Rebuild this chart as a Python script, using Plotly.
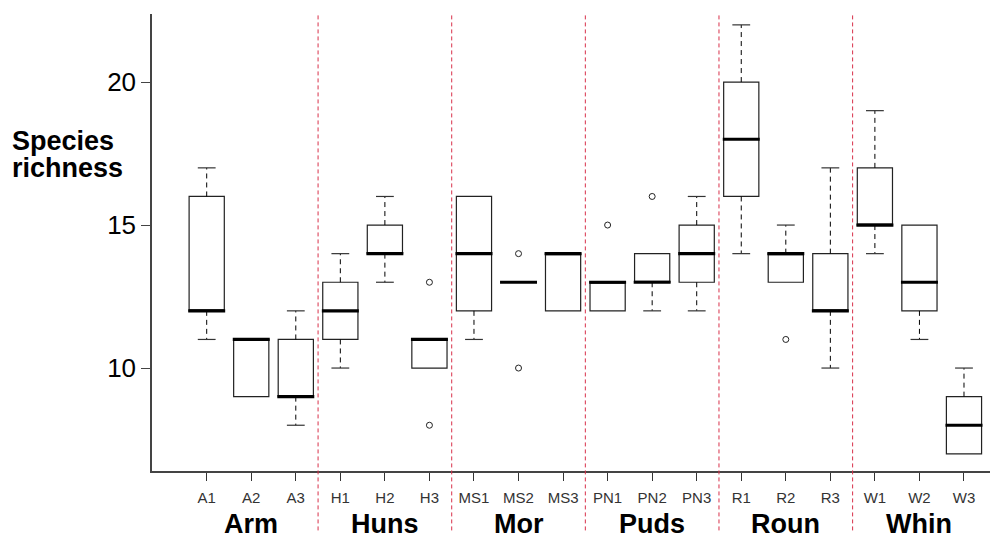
import plotly.graph_objects as go

# ---- data ----
categories = ["A1", "A2", "A3", "H1", "H2", "H3", "MS1", "MS2", "MS3",
              "PN1", "PN2", "PN3", "R1", "R2", "R3", "W1", "W2", "W3"]
groups = ["Arm", "Huns", "Mor", "Puds", "Roun", "Whin"]
lower_whisker = [11, 9, 8, 10, 13, 10, 11, 13, 12, 12, 12, 12, 14, 13, 10, 14, 11, 7]
q1 =            [12, 9, 9, 11, 14, 10, 12, 13, 12, 12, 13, 13, 16, 13, 12, 15, 12, 7]
median =        [12, 11, 9, 12, 14, 11, 14, 13, 14, 13, 13, 14, 18, 14, 12, 15, 13, 8]
q3 =            [16, 11, 11, 13, 15, 11, 16, 13, 14, 13, 14, 15, 20, 14, 14, 17, 15, 9]
upper_whisker = [17, 11, 12, 14, 16, 11, 16, 13, 14, 13, 14, 16, 22, 15, 17, 19, 15, 10]
outlier_cat = ["H3", "H3", "MS2", "MS2", "PN1", "PN2", "R2"]
outlier_val = [13, 8, 14, 10, 15, 16, 11]
y_ticks = [10, 15, 20]
y_label_lines = ["Species", "richness"]

pos = list(range(1, len(categories) + 1))
posmap = dict(zip(categories, pos))
BW = 0.79   # box width (category units)
CW = 0.40   # cap width

fig = go.Figure()

# boxes (no whiskers; dashed whiskers drawn separately)
fig.add_trace(go.Box(
    x=pos, q1=q1, median=median, q3=q3, lowerfence=q1, upperfence=q3,
    width=BW, whiskerwidth=0, boxpoints=False,
    fillcolor="white", line=dict(color="#222222", width=1.2),
    showlegend=False, hoverinfo="skip"))

# dashed whiskers
wx, wy, cx, cy = [], [], [], []
for p, lo, a, b, hi in zip(pos, lower_whisker, q1, q3, upper_whisker):
    if hi > b:
        wx += [p, p, None]; wy += [b, hi, None]
        cx += [p - CW / 2, p + CW / 2, None]; cy += [hi, hi, None]
    if lo < a:
        wx += [p, p, None]; wy += [a, lo, None]
        cx += [p - CW / 2, p + CW / 2, None]; cy += [lo, lo, None]
fig.add_trace(go.Scatter(x=wx, y=wy, mode="lines",
                         line=dict(color="black", width=1, dash="5px,4px"),
                         showlegend=False, hoverinfo="skip"))
fig.add_trace(go.Scatter(x=cx, y=cy, mode="lines",
                         line=dict(color="#333333", width=1.2),
                         showlegend=False, hoverinfo="skip"))

# thick medians
mx, my = [], []
for p, m in zip(pos, median):
    mx += [p - BW / 2 - 0.02, p + BW / 2 + 0.02, None]; my += [m, m, None]
fig.add_trace(go.Scatter(x=mx, y=my, mode="lines",
                         line=dict(color="black", width=3.2),
                         showlegend=False, hoverinfo="skip"))

# outliers
fig.add_trace(go.Scatter(x=[posmap[c] for c in outlier_cat], y=outlier_val,
                         mode="markers",
                         marker=dict(symbol="circle-open", size=6,
                                     color="#222222", line=dict(width=1)),
                         showlegend=False, hoverinfo="skip"))

# red dashed group dividers
n_per = len(categories) // len(groups)
for g in range(1, len(groups)):
    xd = g * n_per + 0.5
    fig.add_shape(type="line", xref="x", yref="paper", x0=xd, x1=xd,
                  y0=-0.13, y1=1.0,
                  line=dict(color="#d8304a", width=1, dash="4px,3px"))

# group labels
for g, name in enumerate(groups):
    fig.add_annotation(x=g * n_per + 2, y=-0.115, xref="x", yref="paper",
                       text="<b>%s</b>" % name, showarrow=False,
                       yanchor="middle",
                       font=dict(family="Liberation Sans, Arial", size=27,
                                 color="black"))

# y-axis title (two tight lines)
for i, line in enumerate(y_label_lines):
    fig.add_annotation(x=-0.1695, y=0.722 - i * 0.059, xref="paper",
                       yref="paper", text="<b>%s</b>" % line,
                       showarrow=False, xanchor="left", yanchor="middle",
                       font=dict(family="Liberation Sans, Arial", size=27,
                                 color="black"))

fig.update_layout(
    width=990, height=538,
    margin=dict(l=152, r=0, t=14, b=67),
    paper_bgcolor="white", plot_bgcolor="white",
    font=dict(family="Liberation Sans, Arial"),
    xaxis=dict(range=[-0.228, 18.584], tickmode="array", tickvals=pos,
               ticktext=categories, ticks="outside", ticklen=8,
               tickcolor="#333333", showline=True, linecolor="#444444",
               linewidth=1.5, showgrid=False, zeroline=False,
               ticklabelstandoff=4,
               tickfont=dict(size=15, color="#333333")),
    yaxis=dict(range=[6.4, 22.38], tickmode="array", tickvals=y_ticks,
               ticks="outside", ticklen=9, tickcolor="#444444",
               showline=True, linecolor="#444444", linewidth=1.5,
               showgrid=False, zeroline=False,
               tickfont=dict(size=26, color="black")),
)

fig.write_html("out.html")
